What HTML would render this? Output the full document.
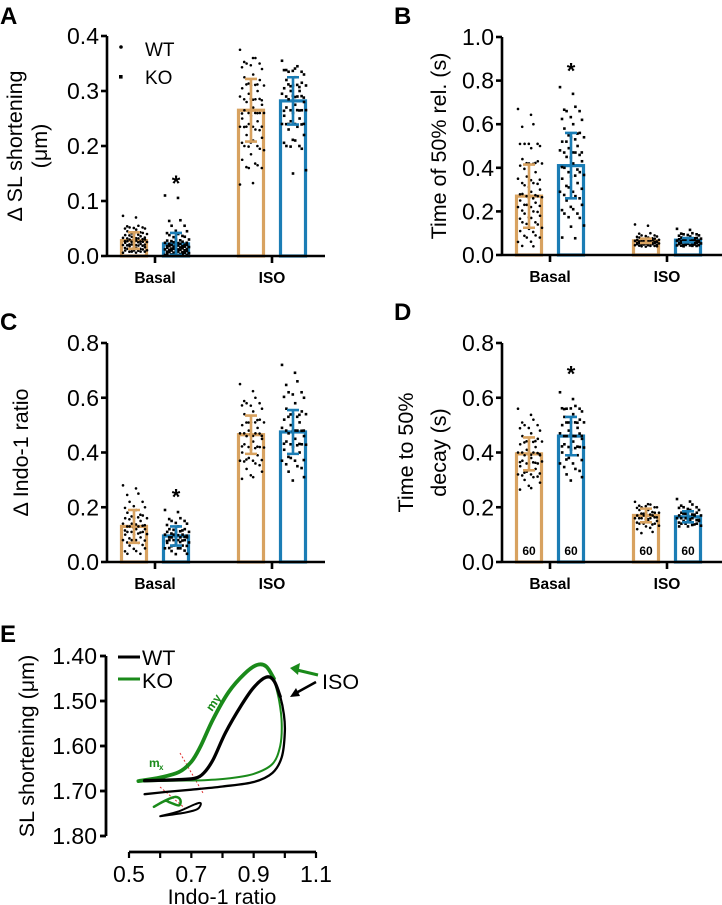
<!DOCTYPE html>
<html><head><meta charset="utf-8"><style>
body{margin:0;background:#fff;}
svg{display:block;font-family:"Liberation Sans",sans-serif;}
</style></head><body>
<svg id="fig" width="722" height="905" viewBox="0 0 722 905" xmlns="http://www.w3.org/2000/svg"></svg>
<script>
const groups=['Basal','ISO'];
const seriesNames=['WT','KO'];
// Panel A
const aMeans=[[0.028,0.265],[0.022,0.282]];
const aSD=[[0.015,0.057],[0.02,0.043]];
const aPts=[[[0.073,0.055,0.052,0.05,0.048,0.045,0.042,0.04,0.038,0.036,0.035,0.033,0.032,0.03,0.03,0.028,0.027,0.026,0.025,0.024,0.022,0.021,0.02,0.019,0.018,0.016,0.015,0.013,0.012,0.01,0.01,0.008,0.008,0.006],
[0.375,0.36,0.35,0.34,0.33,0.325,0.32,0.31,0.305,0.3,0.295,0.29,0.285,0.28,0.275,0.27,0.265,0.26,0.255,0.25,0.245,0.24,0.235,0.23,0.22,0.215,0.21,0.2,0.195,0.185,0.175,0.165,0.16,0.13]],
[[0.11,0.065,0.055,0.045,0.04,0.038,0.035,0.03,0.028,0.026,0.025,0.024,0.022,0.02,0.02,0.019,0.018,0.017,0.016,0.015,0.014,0.013,0.012,0.011,0.01,0.009,0.008,0.007,0.006,0.005,0.004,0.003,0.002,0.002],
[0.355,0.345,0.335,0.33,0.325,0.32,0.315,0.31,0.305,0.3,0.3,0.295,0.29,0.285,0.28,0.275,0.27,0.265,0.26,0.255,0.25,0.245,0.24,0.235,0.23,0.22,0.21,0.2,0.195,0.15]]];
const aTicks=['0.0','0.1','0.2','0.3','0.4'];
// Panel B
const bMeans=[[0.27,0.065],[0.41,0.068]];
const bSD=[[0.145,0.01],[0.15,0.01]];
const bPts=[[[0.67,0.6,0.51,0.5,0.49,0.44,0.43,0.42,0.41,0.38,0.36,0.35,0.33,0.32,0.3,0.29,0.28,0.27,0.26,0.25,0.24,0.23,0.22,0.2,0.19,0.18,0.17,0.15,0.14,0.12,0.11,0.09,0.08,0.06,0.04],
[0.14,0.1,0.09,0.085,0.08,0.08,0.075,0.07,0.07,0.068,0.065,0.065,0.062,0.06,0.06,0.058,0.055,0.055,0.052,0.05,0.05,0.048,0.045,0.042,0.04,0.04]],
[[0.77,0.68,0.66,0.62,0.6,0.58,0.56,0.54,0.52,0.5,0.49,0.48,0.47,0.45,0.43,0.42,0.4,0.38,0.36,0.35,0.33,0.31,0.29,0.27,0.25,0.23,0.21,0.19,0.17,0.13,0.08],
[0.12,0.1,0.095,0.09,0.085,0.08,0.078,0.075,0.072,0.07,0.068,0.066,0.064,0.062,0.06,0.058,0.056,0.055,0.052,0.05,0.048,0.046,0.044,0.042,0.04]]];
const bTicks=['0.0','0.2','0.4','0.6','0.8','1.0'];
// Panel C
const cMeans=[[0.13,0.465],[0.095,0.475]];
const cSD=[[0.06,0.07],[0.035,0.08]];
const cPts=[[[0.28,0.25,0.22,0.2,0.19,0.18,0.17,0.16,0.16,0.15,0.14,0.14,0.13,0.13,0.12,0.12,0.11,0.11,0.1,0.1,0.09,0.08,0.08,0.07,0.06,0.05,0.04,0.03],
[0.65,0.6,0.58,0.56,0.55,0.54,0.52,0.51,0.5,0.49,0.48,0.47,0.47,0.46,0.45,0.44,0.43,0.42,0.41,0.4,0.39,0.38,0.37,0.36,0.34,0.33,0.31]],
[[0.19,0.16,0.15,0.14,0.13,0.12,0.12,0.11,0.11,0.1,0.1,0.1,0.09,0.09,0.09,0.08,0.08,0.08,0.07,0.07,0.06,0.06,0.05,0.05,0.04,0.03],
[0.72,0.66,0.62,0.6,0.58,0.56,0.55,0.54,0.52,0.51,0.5,0.49,0.48,0.47,0.46,0.45,0.44,0.43,0.42,0.41,0.4,0.38,0.37,0.35,0.33,0.31]]];
const cTicks=['0.0','0.2','0.4','0.6','0.8'];
// Panel D
const dMeans=[[0.395,0.17],[0.46,0.165]];
const dSD=[[0.06,0.025],[0.07,0.02]];
const dPts=[[[0.56,0.52,0.5,0.48,0.47,0.46,0.45,0.44,0.43,0.42,0.41,0.4,0.4,0.39,0.39,0.38,0.37,0.36,0.36,0.35,0.34,0.33,0.32,0.31,0.3,0.29,0.27],
[0.22,0.21,0.2,0.2,0.19,0.19,0.18,0.18,0.17,0.17,0.17,0.16,0.16,0.16,0.15,0.15,0.14,0.14,0.13,0.12,0.11]],
[[0.62,0.57,0.56,0.55,0.54,0.53,0.52,0.51,0.5,0.49,0.48,0.47,0.46,0.46,0.45,0.44,0.43,0.42,0.41,0.4,0.39,0.38,0.36,0.34,0.32,0.31],
[0.23,0.21,0.2,0.19,0.19,0.18,0.18,0.17,0.17,0.17,0.16,0.16,0.16,0.15,0.15,0.15,0.14,0.14,0.13,0.13]]];
const dTicks=['0.0','0.2','0.4','0.6','0.8'];
const dCounts=['60','60'];
// Panel E loops (Indo-1 ratio, SL)
const wtLoopX=[0.55,0.65,0.71,0.74,0.77,0.81,0.86,0.9,0.94,0.965,0.985,0.997,1.0,0.99,0.96,0.9,0.8,0.7,0.62,0.55];
const wtLoopY=[1.677,1.675,1.672,1.66,1.63,1.57,1.51,1.47,1.447,1.455,1.49,1.53,1.57,1.625,1.66,1.68,1.69,1.697,1.702,1.707];
const koLoopX=[0.53,0.6,0.66,0.7,0.73,0.77,0.82,0.87,0.91,0.94,0.965,0.982,0.99,0.985,0.96,0.9,0.82,0.74,0.64,0.53];
const koLoopY=[1.678,1.67,1.658,1.635,1.6,1.54,1.48,1.44,1.42,1.423,1.45,1.5,1.55,1.6,1.64,1.662,1.672,1.676,1.677,1.679];
const wtSmallX=[0.6,0.66,0.71,0.73,0.72,0.68,0.6];
const wtSmallY=[1.756,1.745,1.73,1.727,1.74,1.748,1.756];
const koSmallX=[0.58,0.62,0.65,0.665,0.66,0.63,0.615,0.58];
const koSmallY=[1.735,1.72,1.713,1.72,1.732,1.725,1.722,1.735];
const eXTicks=['0.5','0.7','0.9','1.1'];
const eYTicks=['1.40','1.50','1.60','1.70','1.80'];

const NS='http://www.w3.org/2000/svg';
const svg=document.getElementById('fig');
const COL=['#d8a260','#1b7db5'];
const TF=23;
function mk(tag,attrs,parent){const e=document.createElementNS(NS,tag);for(const k in attrs)e.setAttribute(k,attrs[k]);(parent||svg).appendChild(e);return e;}
function txt(s,x,y,size,extra,parent){const t=mk('text',Object.assign({x:x,y:y,'font-size':size},extra||{}),parent);t.textContent=s;return t;}

function barPanel(id,ax,top,bot,axEnd,vmax,ticks,means,sds,pts,title,starVal,counts){
  const g=mk('g',{});
  
  
  const ys=v=>bot-(v/vmax)*(bot-top);
  const centers=[ax+48,ax+165];
  const off=[-21,21];
  for(let s=0;s<2;s++)for(let c=0;c<2;c++){
    const cx=centers[c]+off[s];
    const r=mk('rect',{x:cx-12.5,y:ys(means[s][c]),width:25,height:bot-ys(means[s][c]),fill:'#fff',stroke:COL[s],'stroke-width':3.2},g);
    
    
  }
  for(let s=0;s<2;s++)for(let c=0;c<2;c++){
    const cx=centers[c]+off[s];
    pts[s][c].forEach((v,i)=>{
      for(let k=0;k<2;k++){
        const jx=((i*7+k*5)%11-5)/5*11+(k?2:0);
        const vv=k?v*(1+((i%5)-2)*0.02):v;
        let p;
        if(s===0)p=mk('circle',{cx:cx+jx,cy:ys(vv),r:1.3,fill:'#000'},g);
        else p=mk('rect',{x:cx+jx-1.3,y:ys(vv)-1.3,width:2.6,height:2.6,fill:'#000'},g);
        
        
      }
    });
  }
  for(let s=0;s<2;s++)for(let c=0;c<2;c++){
    const cx=centers[c]+off[s];
    const m=means[s][c],sd=sds[s][c];
    const lo=ys(Math.max(0,m-sd)),hi=ys(m+sd);
    const e=mk('path',{d:`M${cx},${lo}V${hi}M${cx-6},${hi}H${cx+6}M${cx-6},${lo}H${cx+6}`,stroke:COL[s],'stroke-width':2.6,fill:'none'},g);
    
    
  }
  const ya=mk('path',{d:`M${ax},${top}V${bot}`,stroke:'#000','stroke-width':2.6},g);
  
  const xa=mk('path',{d:`M${ax},${bot}H${axEnd}M${centers[0]},${bot}v7M${centers[1]},${bot}v7`,stroke:'#000','stroke-width':2.6},g);
  
  ticks.forEach((t,i)=>{
    const v=parseFloat(t);const y=ys(v);
    mk('path',{d:`M${ax-6},${y}H${ax}`,stroke:'#000','stroke-width':2.6},g);
    const tl=txt(t,ax-8,y+8,TF,{'text-anchor':'end'},g);
    
  });
  groups.forEach((gname,c)=>{
    const l=txt(gname,centers[c],bot+27,15.5,{'text-anchor':'middle','font-weight':'bold'},g);
    
  });
  const st=txt('*',centers[0]+21,ys(starVal),22,{'text-anchor':'middle','font-weight':'bold'},g);
  
  if(counts){for(let s=0;s<2;s++)for(let c=0;c<2;c++){
    const n=txt(counts[s],centers[c]+off[s],bot-7,12,{'text-anchor':'middle','font-weight':'bold'},g);
    
  }}
  const mid=(top+bot)/2;
  title.forEach(line=>{
    const x=line.x;
    const t=txt(line.s,x,mid,21.5,{'text-anchor':'middle',transform:`rotate(-90 ${x} ${mid})`},g);
    
  });
}
barPanel('a',107,36,256,325,0.4,aTicks,aMeans,aSD,aPts,[{s:'Δ SL shortening',x:22},{s:'(μm)',x:47}],0.118);
barPanel('b',502,37,255,722,1.0,bTicks,bMeans,bSD,bPts,[{s:'Time of 50% rel. (s)',x:446}],0.81);
barPanel('c',107,343,562,325,0.8,cTicks,cMeans,cSD,cPts,[{s:'Δ Indo-1 ratio',x:28}],0.21);
barPanel('d',502,343,562,722,0.8,dTicks,dMeans,dSD,dPts,[{s:'Time to 50%',x:413},{s:'decay (s)',x:446}],0.66,dCounts);

{const g=mk('g',{});
 mk('circle',{cx:121,cy:47,r:1.8,fill:'#000'},g);mk('rect',{x:119,y:75,width:3.6,height:3.6,fill:'#000'},g);
 txt('WT',145,56,19,{},g);txt('KO',145,84,19,{},g);}

[['A',0,24],['B',394,24],['C',0,330],['D',394,320],['E',0,642]].forEach(p=>{
  const t=txt(p[0],p[1],p[2],24,{'font-weight':'bold'});
  
});

{
const g=mk('g',{});
const xs=v=>129+(v-0.5)/0.6*187;
const ys=v=>656+(v-1.40)/0.4*180;
const ya=mk('path',{d:`M106,656V836`,stroke:'#000','stroke-width':2.8},g);

eYTicks.forEach(t=>{const y=ys(parseFloat(t));mk('path',{d:`M100,${y}H106`,stroke:'#000','stroke-width':2.8},g);
  const l=txt(t,97,y+8,TF,{'text-anchor':'end'},g);});
const xa=mk('path',{d:`M129,852H316`,stroke:'#000','stroke-width':2.8},g);

for(let v=0.5;v<=1.101;v+=0.1){mk('path',{d:`M${xs(v)},852v6`,stroke:'#000','stroke-width':2.2},g);}
eXTicks.forEach(t=>{const l=txt(t,xs(parseFloat(t)),882,TF,{'text-anchor':'middle'},g);});
const xt=txt('Indo-1 ratio',222,904,21.5,{'text-anchor':'middle'},g);
const yt=txt('SL shortening (μm)',34,746,21.5,{'text-anchor':'middle',transform:'rotate(-90 34 746)'},g);
function line(X,Y,col,w,name){
  const P=X.map((x,i)=>[xs(x),ys(Y[i])]);
  let d='M'+P[0][0].toFixed(1)+','+P[0][1].toFixed(1);
  for(let i=0;i<P.length-1;i++){
    const p0=P[Math.max(0,i-1)],p1=P[i],p2=P[i+1],p3=P[Math.min(P.length-1,i+2)];
    const c1=[p1[0]+(p2[0]-p0[0])/6,p1[1]+(p2[1]-p0[1])/6],c2=[p2[0]-(p3[0]-p1[0])/6,p2[1]-(p3[1]-p1[1])/6];
    d+=`C${c1[0].toFixed(1)},${c1[1].toFixed(1)} ${c2[0].toFixed(1)},${c2[1].toFixed(1)} ${p2[0].toFixed(1)},${p2[1].toFixed(1)}`;
  }
  const p=mk('path',{d:d,stroke:col,'stroke-width':w,fill:'none','stroke-linejoin':'round','stroke-linecap':'round'},g);}
mk('path',{d:'M180,753L203,793M160,787L187,810',stroke:'#e03030','stroke-width':1,'stroke-dasharray':'2,2'},g);
line(wtSmallX,wtSmallY,'#000',2,'wt-small-loop');
line(koSmallX,koSmallY,'#1a8a1a',2.5,'ko-small-loop');
line(koLoopX.slice(0,11),koLoopY.slice(0,11),'#1a8a1a',3.8,'ko-loop-rise');
line(wtLoopX,wtLoopY,'#000',2.3,'wt-loop');
line(koLoopX.slice(10),koLoopY.slice(10),'#1a8a1a',2,'ko-loop-fall');
line(wtLoopX.slice(0,11),wtLoopY.slice(0,11),'#000',3.3,'wt-loop-rise');
mk('path',{d:'M118,657H140',stroke:'#000','stroke-width':3},g);mk('path',{d:'M118,679H140',stroke:'#1a8a1a','stroke-width':3},g);
const l1=txt('WT',142,665,21.5,{},g);
const l2=txt('KO',142,688,21.5,{},g);
mk('path',{d:'M318,675L297,670',stroke:'#1a8a1a','stroke-width':3},g);mk('path',{d:'M290,668L300,663L298,675Z',fill:'#1a8a1a'},g);
mk('path',{d:'M316,682L296,693',stroke:'#000','stroke-width':2.5},g);mk('path',{d:'M290,697L296,688L300,696Z',fill:'#000'},g);
const iso=txt('ISO',322,689,21.5,{},g);
const mx=txt('m',149,767,12,{fill:'#1a8a1a','font-weight':'bold'},g);
txt('x',159,770,8,{fill:'#1a8a1a','font-weight':'bold'},g);
const my=txt('my',212,712,12,{fill:'#1a8a1a','font-weight':'bold',transform:'rotate(-55 212 712)'},g);
}
</script>
</body></html>
